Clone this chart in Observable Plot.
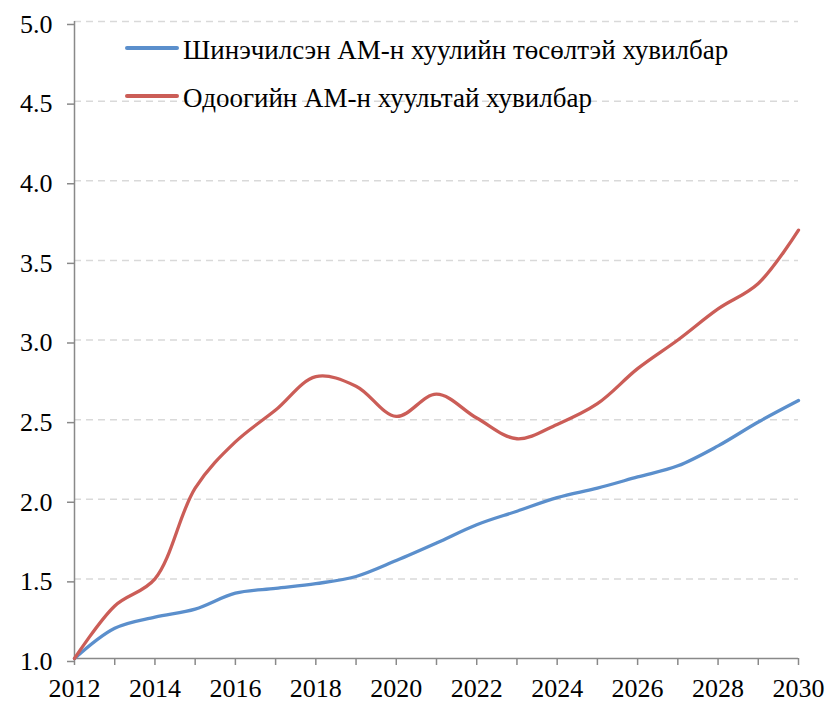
<!DOCTYPE html>
<html>
<head>
<meta charset="utf-8">
<script src="https://cdn.jsdelivr.net/npm/d3@7"></script>
<script src="https://cdn.jsdelivr.net/npm/@observablehq/plot@0.6"></script>
<style>
  body { margin: 0; background: #fff; }
  #wrap { position: relative; width: 828px; height: 703px; font-family: "Liberation Serif", "Times New Roman", serif; }
  #wrap svg, #wrap svg text { font-family: "Liberation Serif", "Times New Roman", serif !important; }
  .sw { position: absolute; width: 54px; height: 3.5px; border-radius: 2px; }
  .lt { position: absolute; font-size: 27px; line-height: 30px; white-space: nowrap; color: #000; }
</style>
</head>
<body>
<div id="wrap"></div>
<script>
const years = [2012,2013,2014,2015,2016,2017,2018,2019,2020,2021,2022,2023,2024,2025,2026,2027,2028,2029,2030];
const newLaw = [1.00,1.19,1.26,1.31,1.41,1.44,1.47,1.515,1.615,1.725,1.84,1.925,2.01,2.07,2.14,2.21,2.335,2.485,2.62];
const currentLaw = [1.00,1.33,1.50,2.07,2.36,2.56,2.77,2.71,2.52,2.66,2.51,2.38,2.47,2.60,2.82,3.00,3.195,3.355,3.69];
const seriesNames = ["Шинэчилсэн АМ-н хуулийн төсөлтэй хувилбар", "Одоогийн АМ-н хуультай хувилбар"];
const seriesColors = ["#5B8FCC", "#CB5D57"];
const yTicks = [1.0,1.5,2.0,2.5,3.0,3.5,4.0,4.5,5.0];

const rows = [];
years.forEach((y, i) => {
  rows.push({year: y, value: newLaw[i], series: seriesNames[0]});
  rows.push({year: y, value: currentLaw[i], series: seriesNames[1]});
});

const axisColor = "#898989";
const chart = Plot.plot({
  width: 828,
  height: 703,
  marginLeft: 74,
  marginRight: 30,
  marginTop: 21,
  marginBottom: 45,
  style: {fontFamily: "Liberation Serif, Times New Roman, serif", fontSize: "26px", color: "#000", background: "#fff"},
  x: {domain: [2012, 2030]},
  y: {domain: [1, 5]},
  color: {domain: seriesNames, range: seriesColors},
  marks: [
    Plot.gridY(yTicks.slice(1), {stroke: "#d9d9d9", strokeOpacity: 1, strokeWidth: 1.5, strokeDasharray: "7,5"}),
    Plot.axisY({ticks: yTicks, tickFormat: d3.format(".1f"), tickSize: 7, tickPadding: 15, stroke: axisColor, fill: "#000", strokeWidth: 1.5, fontSize: 26, dy: 3, label: null}),
    Plot.axisX({ticks: years, tickFormat: d => d % 2 === 0 ? String(d) : "", tickSize: 7, tickPadding: 13, stroke: axisColor, fill: "#000", strokeWidth: 1.5, fontSize: 26, label: null}),
    Plot.ruleX([2012], {stroke: axisColor, strokeWidth: 1.5}),
    Plot.ruleY([1], {stroke: axisColor, strokeWidth: 1.5}),
    Plot.line(rows, {x: "year", y: "value", z: "series", stroke: "series", strokeWidth: 3.3, curve: "catmull-rom"})
  ]
});

const wrap = document.getElementById("wrap");
wrap.appendChild(chart);

const legY = [48, 96];
seriesNames.forEach((name, i) => {
  const sw = document.createElement("div");
  sw.className = "sw";
  sw.style.left = "125px";
  sw.style.top = (legY[i] - 1.75) + "px";
  sw.style.background = seriesColors[i];
  wrap.appendChild(sw);
  const t = document.createElement("div");
  t.className = "lt";
  t.style.left = "183px";
  t.style.top = (legY[i] - 13) + "px";
  t.textContent = name;
  wrap.appendChild(t);
});
</script>
</body>
</html>
